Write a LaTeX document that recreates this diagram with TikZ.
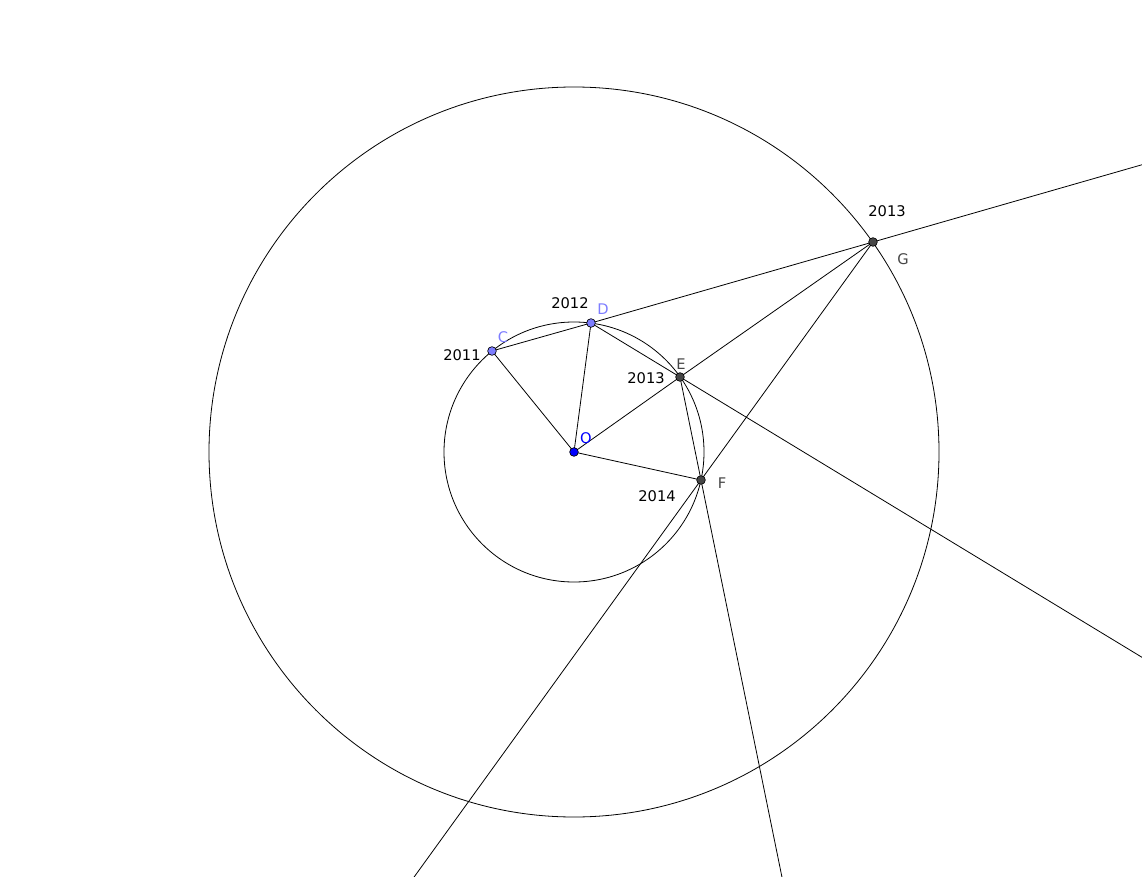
\documentclass[tikz,border=0pt]{standalone}
\usepackage{fontspec}
\setmainfont{DejaVu Sans}
\usetikzlibrary{calc}
\definecolor{ptblue}{RGB}{125,125,255}
\definecolor{ptdark}{RGB}{70,70,70}
\begin{document}
\begin{tikzpicture}[x=0.75pt,y=-0.75pt,
  every node/.style={font=\fontsize{11}{13}\selectfont},
  pt/.style={circle,draw=black,inner sep=0pt,minimum size=6.5pt,line width=0.5pt},
  seg/.style={line width=0.6pt}]
\useasboundingbox (0,0) rectangle (1142,877);
\clip (0,0) rectangle (1142,877);
% Points
\coordinate (O) at (574,452);
\coordinate (C) at (492,351);
\coordinate (D) at (591,323);
\coordinate (E) at (680,377);
\coordinate (F) at (701,480);
\coordinate (G) at (873,242);
% Circles
\draw[seg] (O) circle[radius=130];
\draw[seg] (O) circle[radius=365];
% Segments
\draw[seg] (C) -- (O) (D) -- (O) (E) -- (O) (F) -- (O);
\draw[seg] (C) -- (D) (E) -- (G);
% Rays
\draw[seg] (D) -- ($(D)!3!(G)$);
\draw[seg] (D) -- ($(D)!8!(E)$);
\draw[seg] (E) -- ($(E)!6!(F)$);
\draw[seg] (G) -- ($(G)!3!(F)$);
% Dots
\node[pt,fill=ptblue] (c) at (C) {};
\node[pt,fill=ptblue] (d) at (D) {};
\node[pt,fill=blue] (o) at (O) {};
\node[pt,fill=ptdark] (e) at (E) {};
\node[pt,fill=ptdark] (f) at (F) {};
\node[pt,fill=ptdark] (g) at (G) {};
% Labels
\node (lg1) at (887,211) {2013};
\node[text=ptdark] (lg2) at (903,259) {G};
\node (ld1) at (570,303) {2012};
\node[text=ptblue] (ld2) at (603,309) {D};
\node[text=ptblue] (lc2) at (503,337) {C};
\node (lc1) at (462,355) {2011};
\node[text=ptdark] (le2) at (681,364) {E};
\node (le1) at (646,378) {2013};
\node[text=blue] (lo) at (586,438) {O};
\node (lf1) at (657,496) {2014};
\node[text=ptdark] (lf2) at (722,483) {F};
\end{tikzpicture}
\end{document}
